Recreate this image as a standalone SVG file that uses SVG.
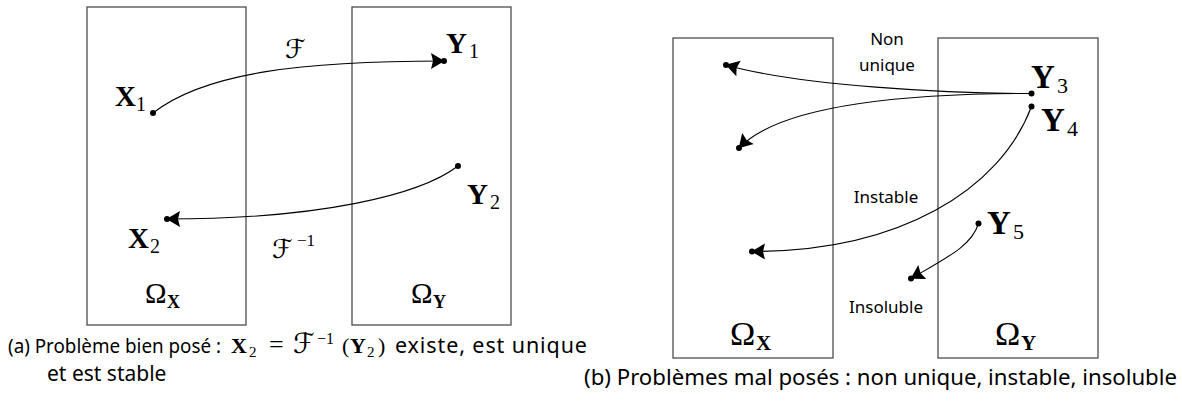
<svg xmlns="http://www.w3.org/2000/svg" width="1182" height="401" viewBox="0 0 1182 401">
<style>
.box{fill:none;stroke:#4d4d4d;stroke-width:1.3}
.con{fill:none;stroke:#000;stroke-width:1.1}
.dot{fill:#000}
.mb{font-family:"Liberation Serif",serif;font-weight:bold;fill:#000}
.mr{font-family:"Liberation Serif",serif;fill:#000}
.cal{font-family:"DejaVu Sans","DejaVu Serif",serif;fill:#000}
.txt{font-family:"Noto Sans","Open Sans",sans-serif;fill:#000}
</style>
<defs>
<marker id="arr" viewBox="-15 -10 17 20" markerWidth="17" markerHeight="20" refX="0" refY="0" orient="auto" markerUnits="userSpaceOnUse">
<path d="M0.5,0 L-13,-8 L-11,0 L-13,8 Z" fill="#000"/>
</marker>
</defs>
<rect width="1182" height="401" fill="#fff"/>

<!-- Left panel -->
<g id="omegaX-a">
<rect class="box" x="87" y="7" width="159" height="318"/>
<text class="mr" x="145" y="303" font-size="29">Ω</text>
<text class="mb" x="167" y="308" font-size="18">X</text>
</g>
<g id="omegaY-a">
<rect class="box" x="352" y="7" width="159" height="318"/>
<text class="mr" x="411" y="303" font-size="29">Ω</text>
<text class="mb" x="433" y="308" font-size="18">Y</text>
</g>
<g id="X1">
<circle class="dot" cx="153" cy="113" r="3"/>
<text class="mb" x="115" y="106" font-size="29">X</text>
<text class="mr" x="136" y="111" font-size="20">1</text>
</g>
<g id="Y1">
<circle class="dot" cx="444" cy="61" r="3"/>
<text class="mb" x="446" y="53" font-size="29">Y</text>
<text class="mr" x="469" y="58" font-size="20">1</text>
</g>
<g id="Y2">
<circle class="dot" cx="458" cy="166" r="3"/>
<text class="mb" x="467" y="204" font-size="29">Y</text>
<text class="mr" x="490" y="209" font-size="20">2</text>
</g>
<g id="X2">
<circle class="dot" cx="167" cy="219" r="3"/>
<text class="mb" x="128" y="248" font-size="29">X</text>
<text class="mr" x="150" y="253" font-size="20">2</text>
</g>

<!-- Right panel -->
<g id="omegaX-b">
<rect class="box" x="673" y="38" width="160" height="320"/>
<text class="mr" x="730" y="345" font-size="34">Ω</text>
<text class="mb" x="756" y="350" font-size="21">X</text>
</g>
<g id="omegaY-b">
<rect class="box" x="938" y="38" width="160" height="320"/>
<text class="mr" x="995" y="345" font-size="34">Ω</text>
<text class="mb" x="1021" y="350" font-size="21">Y</text>
</g>
<g id="Y3">
<circle class="dot" cx="1031.5" cy="93.5" r="3"/>
<text class="mb" x="1031" y="88" font-size="33">Y</text>
<text class="mr" x="1057" y="93" font-size="22">3</text>
</g>
<g id="Y4">
<circle class="dot" cx="1031.5" cy="106.5" r="3"/>
<text class="mb" x="1041" y="131" font-size="33">Y</text>
<text class="mr" x="1067" y="136" font-size="22">4</text>
</g>
<g id="Y5">
<circle class="dot" cx="978.5" cy="223.5" r="3"/>
<text class="mb" x="987" y="234" font-size="33">Y</text>
<text class="mr" x="1013" y="239" font-size="22">5</text>
</g>
<g id="endpoints-b">
<circle class="dot" cx="726" cy="65" r="3"/>
<circle class="dot" cx="739" cy="148" r="3"/>
<circle class="dot" cx="752" cy="251.5" r="3"/>
<circle class="dot" cx="911" cy="278.5" r="3"/>
</g>

<g id="connectors">
<path class="con" d="M153,113 C205,72 305,61 444,61" marker-end="url(#arr)"/>
<path class="con" d="M458,166 C420,195 320,219 167,219" marker-end="url(#arr)"/>
<path class="con" d="M1031.5,93.5 C950,93.5 800,86 726,65" marker-end="url(#arr)"/>
<path class="con" d="M1031.5,93.5 C900,93.5 780,105 739,148" marker-end="url(#arr)"/>
<path class="con" d="M1031.5,106.5 C1000,190 900,251.5 752,251.5" marker-end="url(#arr)"/>
<path class="con" d="M978.5,223.5 C972,245 950,256 911,278.5" marker-end="url(#arr)"/>
</g>

<g id="edge-labels">
<text class="cal" x="285" y="58" font-size="26">ℱ</text>
<text class="cal" x="272" y="258" font-size="26">ℱ</text>
<text class="mr" x="297" y="246" font-size="17">−1</text>
<text class="txt" x="887" y="45" font-size="17" text-anchor="middle">Non</text>
<text class="txt" x="887" y="71" font-size="17" text-anchor="middle">unique</text>
<text class="txt" x="886" y="203" font-size="17" text-anchor="middle">Instable</text>
<text class="txt" x="886" y="313" font-size="17" text-anchor="middle">Insoluble</text>
</g>

<g id="captions">
<text class="txt" x="8" y="353" font-size="19.6" textLength="213" lengthAdjust="spacingAndGlyphs">(a) Problème bien posé :</text>
<text class="mb" x="231" y="353" font-size="22">X</text>
<text class="mr" x="249" y="357" font-size="15">2</text>
<text class="mr" x="269" y="353" font-size="26">=</text>
<text class="cal" x="293" y="353" font-size="28">ℱ</text>
<text class="mr" x="317" y="344" font-size="16">−1</text>
<text class="mr" x="342" y="353" font-size="22">(</text>
<text class="mb" x="350" y="353" font-size="22">Y</text>
<text class="mr" x="367" y="357" font-size="15">2</text>
<text class="mr" x="378" y="353" font-size="22">)</text>
<text class="txt" x="395" y="353" font-size="21.5" textLength="192" lengthAdjust="spacing">existe, est unique</text>
<text class="txt" x="47" y="381" font-size="21">et est stable</text>
<text class="txt" x="584" y="385" font-size="21.5" textLength="593" lengthAdjust="spacingAndGlyphs">(b) Problèmes mal posés : non unique, instable, insoluble</text>
</g>
</svg>
